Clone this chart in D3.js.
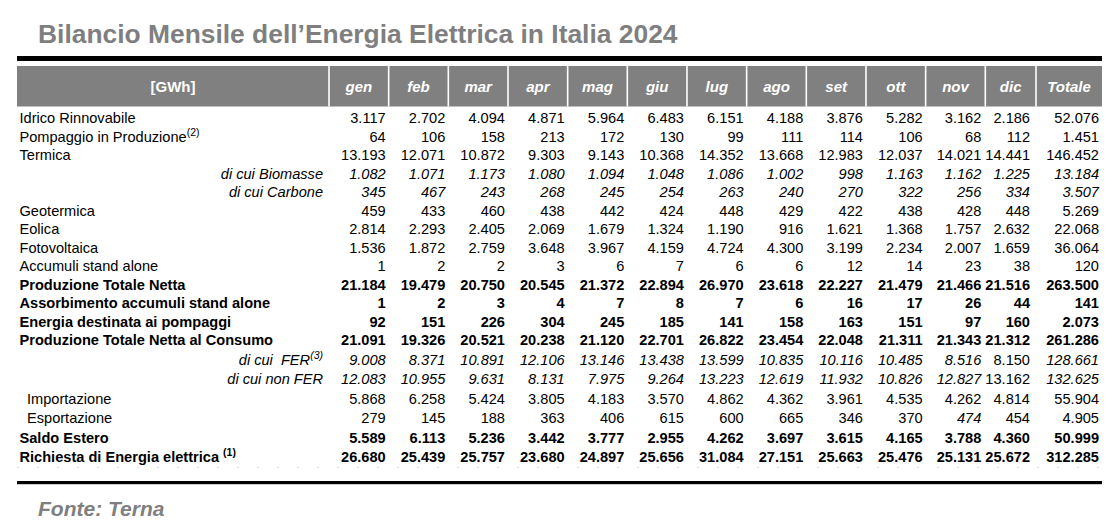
<!DOCTYPE html>
<html><head><meta charset="utf-8">
<script src="https://cdn.jsdelivr.net/npm/d3@7"></script>
<style>
html,body{margin:0;padding:0;background:#fff;}
svg{display:block;font-family:Arial,"Liberation Sans",sans-serif;}
text{white-space:pre;}
</style></head>
<body><svg id="c" width="1114" height="532"></svg>
<script>
// ---- data ----
const title = "Bilancio Mensile dell’Energia Elettrica in Italia 2024";
const unitLabel = "[GWh]";
const source = "Fonte: Terna";
const columns = ["gen","feb","mar","apr","mag","giu","lug","ago","set","ott","nov","dic","Totale"];
const rowLabels = [
  "Idrico Rinnovabile","Pompaggio in Produzione","Termica","di cui Biomasse","di cui Carbone",
  "Geotermica","Eolica","Fotovoltaica","Accumuli stand alone","Produzione Totale Netta",
  "Assorbimento accumuli stand alone","Energia destinata ai pompaggi","Produzione Totale Netta al Consumo",
  "di cui  FER","di cui non FER","Importazione","Esportazione","Saldo Estero","Richiesta di Energia elettrica"
];
const rowNotes = ["","(2)","","","","","","","","","","","","(3)","","","","","(1)"];
const idrico        = [3117,2702,4094,4871,5964,6483,6151,4188,3876,5282,3162,2186,52076];
const pompaggio     = [64,106,158,213,172,130,99,111,114,106,68,112,1451];
const termica       = [13193,12071,10872,9303,9143,10368,14352,13668,12983,12037,14021,14441,146452];
const biomasse      = [1082,1071,1173,1080,1094,1048,1086,1002,998,1163,1162,1225,13184];
const carbone       = [345,467,243,268,245,254,263,240,270,322,256,334,3507];
const geotermica    = [459,433,460,438,442,424,448,429,422,438,428,448,5269];
const eolica        = [2814,2293,2405,2069,1679,1324,1190,916,1621,1368,1757,2632,22068];
const fotovoltaica  = [1536,1872,2759,3648,3967,4159,4724,4300,3199,2234,2007,1659,36064];
const accumuli      = [1,2,2,3,6,7,6,6,12,14,23,38,120];
const prodNetta     = [21184,19479,20750,20545,21372,22894,26970,23618,22227,21479,21466,21516,263500];
const assorbimento  = [1,2,3,4,7,8,7,6,16,17,26,44,141];
const pompaggi      = [92,151,226,304,245,185,141,158,163,151,97,160,2073];
const prodConsumo   = [21091,19326,20521,20238,21120,22701,26822,23454,22048,21311,21343,21312,261286];
const fer           = [9008,8371,10891,12106,13146,13438,13599,10835,10116,10485,8516,8150,128661];
const nonFer        = [12083,10955,9631,8131,7975,9264,13223,12619,11932,10826,12827,13162,132625];
const importazione  = [5868,6258,5424,3805,4183,3570,4862,4362,3961,4535,4262,4814,55904];
const esportazione  = [279,145,188,363,406,615,600,665,346,370,474,454,4905];
const saldoEstero   = [5589,6113,5236,3442,3777,2955,4262,3697,3615,4165,3788,4360,50999];
const richiesta     = [26680,25439,25757,23680,24897,25656,31084,27151,25663,25476,25131,25672,312285];
const values = [idrico,pompaggio,termica,biomasse,carbone,geotermica,eolica,fotovoltaica,accumuli,
  prodNetta,assorbimento,pompaggi,prodConsumo,fer,nonFer,importazione,esportazione,saldoEstero,richiesta];

// ---- styles (kept apart from data) ----
const rowStyle = ["n","n","n","i","i","n","n","n","n","b","b","b","b","i","i","n","n","b","b"];
const rowAlign = ["l","l","l","r","r","l","l","l","l","l","l","l","l","r","r","ind","ind","l","l"];
// individual cells with a different style than their row: [row, col, style]
const cellStyle = [[13,11,"n"],[14,11,"n"],[16,10,"i"]];

// ---- layout ----
const svg = d3.select("#c");
const left = 17, right = 1102;
const colEdge = d3.scaleLinear().domain([0,11,12,13]).range([329,985.3,1036,right]);
const colPad = d3.scaleOrdinal().domain(columns).range([3,3,3,3,3,3,3,3,3,3,4,6,3]);
const rowY = d3.scaleLinear().domain([0,12,18]).range([118,340,457]);
const fmt = d3.formatLocale({decimal:",",thousands:".",grouping:[3],currency:["","€"]}).format(",d");

// title
svg.append("text").attr("x",38).attr("y",43)
  .attr("font-size",26.4).attr("font-weight","bold").attr("fill","#7f7f7f").text(title);

// top thick rule
svg.append("rect").attr("x",left).attr("y",56).attr("width",right-left).attr("height",5).attr("fill","#000");

// header band
const hTop = 66, hBot = 106.5;
svg.append("rect").attr("x",left).attr("y",hTop).attr("width",right-left).attr("height",hBot-hTop).attr("fill","#808080");
svg.append("text").attr("x",(left+colEdge(0))/2).attr("y",(hTop+hBot)/2+5.5)
  .attr("text-anchor","middle").attr("font-size",15).attr("font-weight","bold").attr("fill","#fff").text(unitLabel);
svg.selectAll("line.sep").data(d3.range(0,13)).join("line").attr("class","sep")
  .attr("x1",d=>colEdge(d)).attr("x2",d=>colEdge(d)).attr("y1",hTop).attr("y2",hBot)
  .attr("stroke","#fff").attr("stroke-width",1.6);
svg.selectAll("text.hdr").data(columns).join("text").attr("class","hdr")
  .attr("x",(d,i)=>(colEdge(i)+colEdge(i+1))/2).attr("y",(hTop+hBot)/2+5.5)
  .attr("text-anchor","middle").attr("font-size",15).attr("font-weight","bold").attr("font-style","italic")
  .attr("fill","#fff").text(d=>d);

// rows
const fs = 14.6;
const rows = svg.selectAll("g.row").data(rowLabels).join("g").attr("class","row")
  .attr("transform",(d,i)=>`translate(0,${rowY(i)+5.2})`);
rows.each(function(lbl,i){
  const g = d3.select(this);
  const st = rowStyle[i], al = rowAlign[i];
  const t = g.append("text").attr("font-size",fs).attr("fill","#000")
    .attr("font-weight",st==="b"?"bold":"normal").attr("font-style",st==="i"?"italic":"normal");
  if(al==="r"){ t.attr("x",323).attr("text-anchor","end"); }
  else if(al==="ind"){ t.attr("x",27); }
  else { t.attr("x",19.5); }
  t.append("tspan").text(lbl);
  if(rowNotes[i]){
    if(i===18) t.append("tspan").text(" ");
    t.append("tspan").attr("font-size",10.5).attr("dy",-6).attr("font-weight",i===18?"bold":"normal").text(rowNotes[i]);
  }
  g.selectAll("text.v").data(values[i]).join("text").attr("class","v")
    .attr("x",(d,j)=>colEdge(j+1)-colPad(columns[j])).attr("text-anchor","end")
    .attr("font-size",fs).attr("fill","#000")
    .attr("font-weight",(d,j)=>{const ex=cellStyle.find(c=>c[0]===i&&c[1]===j);const s=ex?ex[2]:st;return s==="b"?"bold":"normal";})
    .attr("font-style",(d,j)=>{const ex=cellStyle.find(c=>c[0]===i&&c[1]===j);const s=ex?ex[2]:st;return s==="i"?"italic":"normal";})
    .text(d=>fmt(d));
});

// faint dotted rule under last row
svg.append("line").attr("x1",left).attr("x2",right).attr("y1",467.5).attr("y2",467.5)
  .attr("stroke","#d8d8d8").attr("stroke-width",1).attr("stroke-dasharray","2,18");

// bottom thick rule
svg.append("rect").attr("x",left).attr("y",481).attr("width",right-left).attr("height",3.2).attr("fill","#000");

// source
svg.append("text").attr("x",38).attr("y",516).attr("font-size",21).attr("font-weight","bold")
  .attr("font-style","italic").attr("fill","#7f7f7f").text(source);
</script></body></html>
